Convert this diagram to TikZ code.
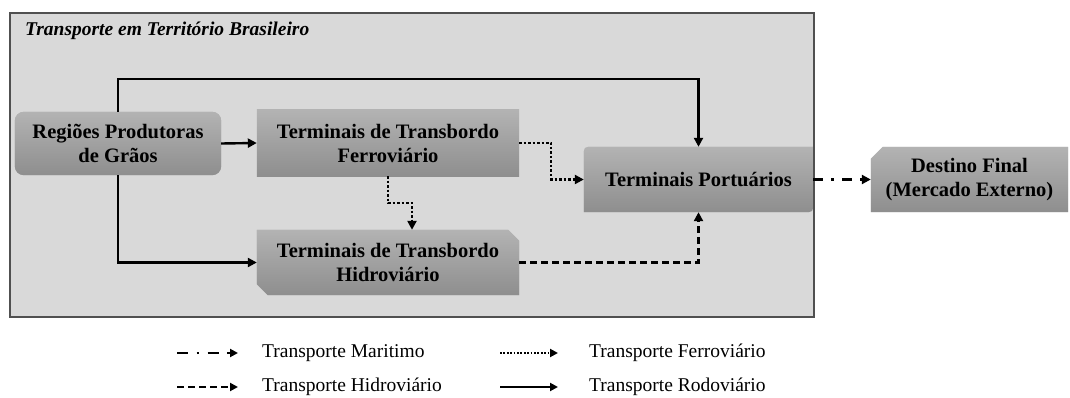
\documentclass[tikz,border=0pt]{standalone}
\usepackage{fontspec}
\setmainfont{Liberation Serif}
\usetikzlibrary{arrows.meta,backgrounds,calc}
\definecolor{outerfill}{HTML}{D9D9D9}
\definecolor{outerline}{HTML}{505050}
\definecolor{boxtop}{HTML}{B3B3B3}
\definecolor{boxbot}{HTML}{8E8E8E}
\tikzset{
 boxnode/.style={inner sep=0pt, align=center, font=\bfseries\fontsize{20.5}{24}\selectfont, text=black},
 boxshade/.style={top color=boxtop, bottom color=boxbot, draw=none},
 boxshadow/.style={fill=black, opacity=0.18, xshift=1.5pt, yshift=-1.5pt},
 link/.style={line width=2.4pt, -{Triangle[length=9pt,width=9pt]}},
 rod/.style={link},
 ferr/.style={link, dash pattern=on 2.5pt off 2pt},
 hidro/.style={link, dash pattern=on 7pt off 4pt},
 mar/.style={link, dash pattern=on 10pt off 8pt on 3pt off 8pt},
 leg/.style={line width=2pt, -{Triangle[length=8pt,width=8pt]}},
 legrod/.style={leg},
 legferr/.style={leg, dash pattern=on 1.8pt off 1.6pt},
 leghidro/.style={leg, dash pattern=on 7pt off 4pt},
 legmar/.style={leg, dash pattern=on 11pt off 8.5pt on 2.5pt off 8.5pt},
 legtext/.style={anchor=west, font=\fontsize{19.5}{21}\selectfont, inner sep=0pt},
}
\begin{document}
\begin{tikzpicture}[x=1pt,y=-1pt]
\useasboundingbox (0,0) rectangle (1070,398);
\node[anchor=base west, font=\bfseries\itshape\fontsize{19.5}{22}\selectfont, inner sep=0pt] (title) at (25,36) {Transporte em Território Brasileiro};
\node[boxnode, minimum width=206pt, minimum height=63pt] (reg) at (118,143.5) {Regiões Produtoras\\de Grãos};
\node[boxnode, minimum width=262pt, minimum height=66pt] (fer) at (388,143) {Terminais de Transbordo\\Ferroviário};
\node[boxnode, minimum width=262pt, minimum height=65pt] (hid) at (388,262.5) {Terminais de Transbordo\\Hidroviário};
\node[boxnode, minimum width=229pt, minimum height=65pt] (por) at (698.5,179.5) {Terminais Portuários};
\node[boxnode, minimum width=197pt, minimum height=65pt] (des) at (969.5,179.5) {Destino Final\\(Mercado Externo)};
\begin{scope}[on background layer]
\path[fill=outerfill] (10,13) rectangle (814,317);
% regioes
\fill[boxshadow, rounded corners=9pt] (reg.south west) rectangle (reg.north east);
\shade[boxshade, rounded corners=9pt] (reg.south west) rectangle (reg.north east);
% ferroviario
\fill[boxshadow] (fer.south west) rectangle (fer.north east);
\shade[boxshade] (fer.south west) rectangle (fer.north east);
% hidroviario
\fill[boxshadow] ($(hid.north east)+(-11,0)$) -- ($(hid.north east)+(0,11)$) -- (hid.south east) -- ($(hid.south west)+(11,0)$) -- ($(hid.south west)+(0,-11)$) -- (hid.north west) -- cycle;
\shade[boxshade] ($(hid.north east)+(-11,0)$) -- ($(hid.north east)+(0,11)$) -- (hid.south east) -- ($(hid.south west)+(11,0)$) -- ($(hid.south west)+(0,-11)$) -- (hid.north west) -- cycle;
% portuarios
\fill[boxshadow] (por.south west) -- ($(por.north west)+(0,10)$) .. controls (por.north west) .. ($(por.north west)+(10,0)$) -- (por.north east) -- ($(por.south east)+(0,-10)$) .. controls (por.south east) .. ($(por.south east)+(-10,0)$) -- cycle;
\shade[boxshade] (por.south west) -- ($(por.north west)+(0,10)$) .. controls (por.north west) .. ($(por.north west)+(10,0)$) -- (por.north east) -- ($(por.south east)+(0,-10)$) .. controls (por.south east) .. ($(por.south east)+(-10,0)$) -- cycle;
% destino
\fill[boxshadow] ($(des.north west)+(0,12)$) -- ($(des.north west)+(12,0)$) -- (des.north east) -- (des.south east) -- (des.south west) -- cycle;
\shade[boxshade] ($(des.north west)+(0,12)$) -- ($(des.north west)+(12,0)$) -- (des.north east) -- (des.south east) -- (des.south west) -- cycle;
\path[draw=outerline, line width=2pt] (10,13) rectangle (814,317);
\end{scope}
% connectors
\draw[rod] (reg.east) -- (fer.west);
\draw[rod] (reg.north) -- ++(0,-33) -| (por.north);
\draw[rod] (reg.south) |- (hid.west);
\draw[ferr] (fer.east) -- ++(32,0) |- (por.west);
\draw[ferr] (fer.south) -- ++(0,27) -| ($(hid.north)+(24,0)$);
\draw[hidro] (hid.east) -| (por.south);
\draw[mar] (por.east) -- (des.west);
% legend
\coordinate (m1) at (177,353); \coordinate (m2) at (238,353);
\coordinate (f1) at (500,353); \coordinate (f2) at (558,353);
\coordinate (h1) at (177,387); \coordinate (h2) at (238,387);
\coordinate (r1) at (500,387); \coordinate (r2) at (558,387);
\draw[legmar] (m1) -- (m2);
\draw[legferr] (f1) -- (f2);
\draw[leghidro] (h1) -- (h2);
\draw[legrod] (r1) -- (r2);
\node[legtext] (mt) at (262,353) {Transporte Maritimo};
\node[legtext] (ft) at (589,353) {Transporte Ferroviário};
\node[legtext] (ht) at (262,387) {Transporte Hidroviário};
\node[legtext] (rt) at (589,387) {Transporte Rodoviário};
\end{tikzpicture}
\end{document}
